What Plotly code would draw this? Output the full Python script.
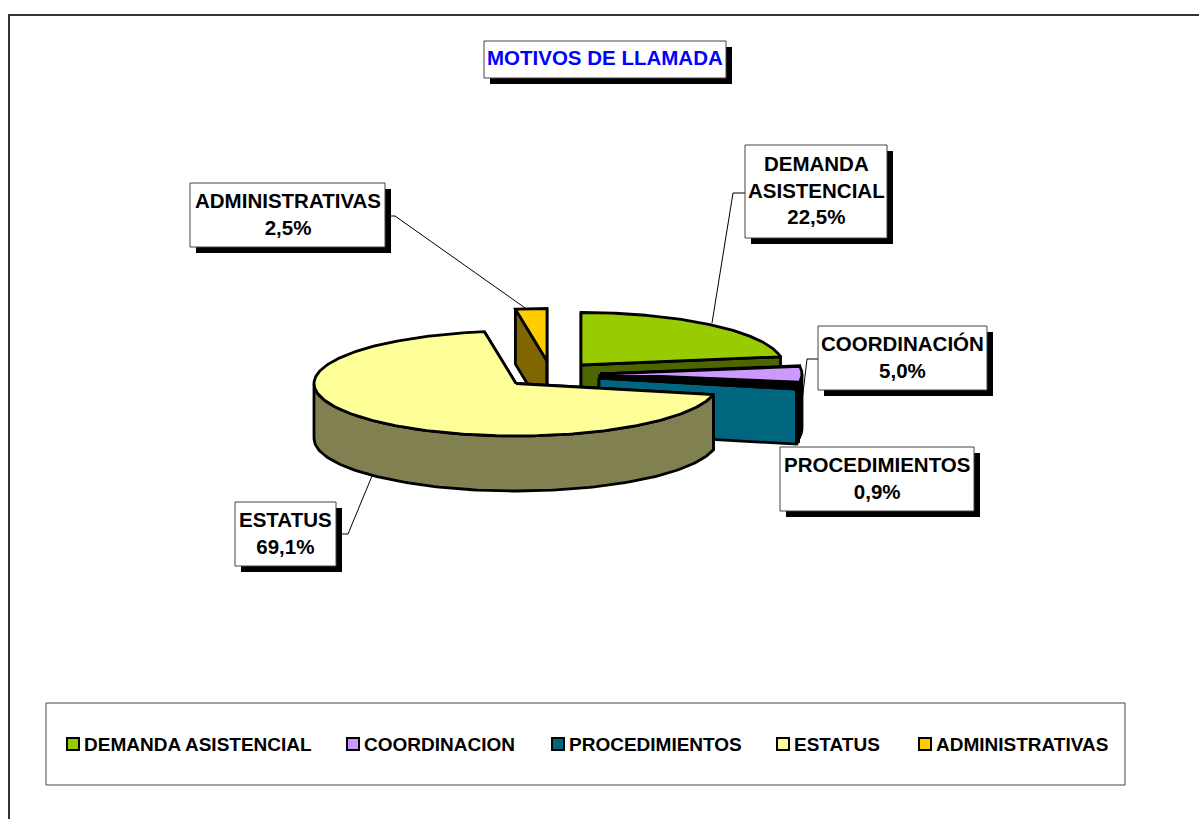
import numpy as np
import plotly.graph_objects as go

# ---- data ----
categories = ["DEMANDA ASISTENCIAL", "COORDINACION", "PROCEDIMIENTOS", "ESTATUS", "ADMINISTRATIVAS"]
label_names = ["DEMANDA<br>ASISTENCIAL", "COORDINACIÓN", "PROCEDIMIENTOS", "ESTATUS", "ADMINISTRATIVAS"]
values = [22.5, 5.0, 0.9, 69.1, 2.5]
title_text = "MOTIVOS DE LLAMADA"

# ---- styles ----
legend_colors = ["#99CC00", "#CC99FF", "#006680", "#FFFF99", "#FFCC00"]
top_colors = ["#99CC00", "#CC99FF", "#000000", "#FFFF99", "#FFCC00"]
side_colors = ["#4D6600", "#000000", "#006680", "#808050", "#806600"]
FONT = "Liberation Sans, Arial, sans-serif"

# ---- geometry of the tilted, exploded pie (pixels) ----
RX, RY, DEPTH = 202, 52.5, 55
centers = [(581, 365), (600, 374), (599, 378), (516, 383.5), (547, 361)]
label_boxes = [(745, 145, 887, 238), (818, 326, 987, 390), (780, 447, 974, 511),
               (235, 502, 336, 566), (190, 183, 385, 247)]
leaders = [[(745, 193), (733, 193), (712, 323)],
           [(818, 359), (807, 359), (801, 410)],
           None,
           [(336, 534), (348, 534), (372, 476)],
           [(385, 216), (395, 216), (528, 310)]]
title_box = (484, 41, 726, 78)
legend_frame = (46, 703, 1125, 785)
legend_x = [73, 353, 558, 783, 925]
LEGEND_Y = 744
LEGEND_GAP = 9
SHADOW = 6


def rim(c, deg, drop=0.0):
    t = np.radians(deg)
    return c[0] + RX * np.sin(t), c[1] - RY * np.cos(t) + drop


def polygon(xs, ys, color):
    return go.Scatter(x=list(xs) + [xs[0]], y=list(ys) + [ys[0]], mode="lines", fill="toself",
                      fillcolor=color, line=dict(color="black", width=2.8),
                      showlegend=False, hoverinfo="skip")


fig = go.Figure()
edges = np.cumsum([0.0] + values) / sum(values) * 360.0
for i in [4, 0, 1, 2, 3]:  # back to front
    a0, a1 = edges[i], edges[i + 1]
    c = centers[i]
    # cut faces
    for a in (a0, a1):
        rx, ry = rim(c, a)
        fig.add_trace(polygon([c[0], rx, rx, c[0]], [c[1], ry, ry + DEPTH, c[1] + DEPTH], side_colors[i]))
    # outer wall (front half only)
    w0, w1 = max(a0, 90.0), min(a1, 270.0)
    if w1 > w0:
        t = np.linspace(w0, w1, 120)
        xs, ys = rim(c, t)
        fig.add_trace(polygon(np.r_[xs, xs[::-1]], np.r_[ys, (ys + DEPTH)[::-1]], side_colors[i]))
    # top
    t = np.linspace(a0, a1, 240)
    xs, ys = rim(c, t)
    fig.add_trace(polygon(np.r_[c[0], xs], np.r_[c[1], ys], top_colors[i]))

shapes = []
# chart frame (runs off the right and bottom of the page)
shapes.append(dict(type="path", path="M 9,830 L 9,15 L 1210,15", line=dict(color="#333333", width=2), layer="below"))
# legend frame
x0, y0, x1, y1 = legend_frame
shapes.append(dict(type="rect", x0=x0, y0=y0, x1=x1, y1=y1, line=dict(color="#444444", width=1), layer="below"))

annotations = []

# legend entries
for name, col, lx in zip(categories, legend_colors, legend_x):
    fig.add_trace(go.Scatter(x=[lx], y=[LEGEND_Y], mode="markers", name=name, showlegend=False, hoverinfo="skip",
                             marker=dict(symbol="square", size=12, color=col,
                                         line=dict(color="black", width=2))))
    annotations.append(dict(x=lx + LEGEND_GAP, y=LEGEND_Y, xref="x", yref="y", text=name, showarrow=False,
                            xanchor="left", yanchor="middle",
                            font=dict(family=FONT, size=19, color="black", weight="bold")))


def boxed(box, text, color, shift):
    x0, y0, x1, y1 = box
    shapes.append(dict(type="rect", x0=x0 + SHADOW, y0=y0 + SHADOW, x1=x1 + SHADOW, y1=y1 + SHADOW,
                       fillcolor="black", line=dict(width=0), layer="above"))
    shapes.append(dict(type="rect", x0=x0, y0=y0, x1=x1, y1=y1,
                       fillcolor="white", line=dict(color="#444444", width=1), layer="above"))
    annotations.append(dict(x=(x0 + x1) / 2, y=(y0 + y1) / 2, xref="x", yref="y", text=text, showarrow=False,
                            align="center", yshift=shift,
                            font=dict(family=FONT, size=20.5, color=color, weight="bold")))


for lead in leaders:
    if lead:
        fig.add_trace(go.Scatter(x=[p[0] for p in lead], y=[p[1] for p in lead], mode="lines",
                                 line=dict(color="black", width=1), showlegend=False, hoverinfo="skip"))

boxed(title_box, title_text, "#0000FF", 2)
for name, v, box in zip(label_names, values, label_boxes):
    boxed(box, f"{name}<br>{v:.1f}".replace(".", ",") + "%", "black", 1.5)

fig.update_layout(
    width=1199, height=819, margin=dict(l=0, r=0, t=0, b=0),
    paper_bgcolor="white", plot_bgcolor="white",
    xaxis=dict(range=[0, 1199], visible=False, domain=[0, 1]),
    yaxis=dict(range=[819, 0], visible=False, domain=[0, 1]),
    shapes=shapes, annotations=annotations,
    showlegend=False,
)
fig.write_html("out.html", config={"displayModeBar": False},
               post_script="document.body.style.margin='0';document.documentElement.style.overflow='hidden';")
